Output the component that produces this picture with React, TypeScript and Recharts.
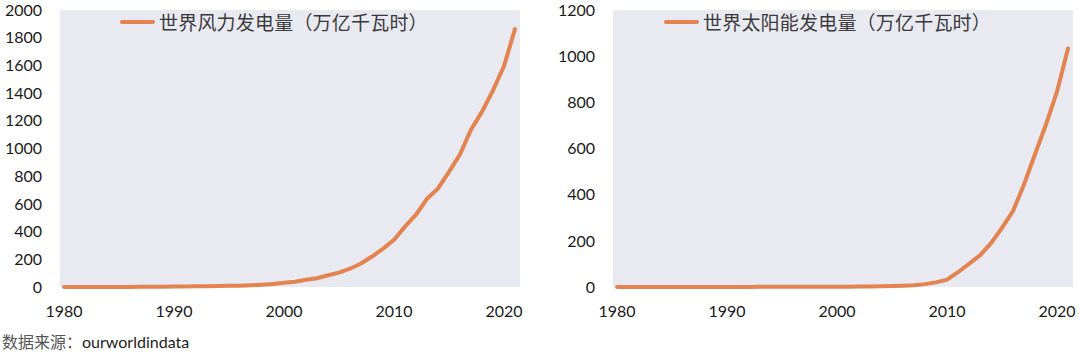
import { LineChart, Line, XAxis, YAxis, Legend, CartesianGrid } from 'recharts'

// ── Data ──────────────────────────────────────────────────────────────────────

const years = [
  1980, 1981, 1982, 1983, 1984, 1985, 1986, 1987, 1988, 1989,
  1990, 1991, 1992, 1993, 1994, 1995, 1996, 1997, 1998, 1999,
  2000, 2001, 2002, 2003, 2004, 2005, 2006, 2007, 2008, 2009,
  2010, 2011, 2012, 2013, 2014, 2015, 2016, 2017, 2018, 2019,
  2020, 2021,
]

const windValues = [
  0, 0, 0, 0.1, 0.3, 0.6, 0.8, 1.3, 2.2, 2.7,
  3.6, 4.1, 4.7, 5.6, 7.1, 8.3, 9.2, 12, 16, 21,
  31, 38, 52, 63, 85, 104, 132, 170, 220, 276,
  341, 436, 522, 636, 712, 831, 958, 1136, 1266, 1420,
  1596, 1862,
]

const solarValues = [
  0, 0, 0, 0, 0, 0.1, 0.1, 0.1, 0.2, 0.3,
  0.4, 0.45, 0.5, 0.57, 0.63, 0.7, 0.76, 0.83, 0.9, 1.0,
  1.1, 1.4, 1.9, 2.6, 3.5, 4.4, 5.7, 7.6, 12.5, 20.1,
  32, 64, 100, 137, 190, 256, 329, 444, 575, 704,
  846, 1033,
]

const xTicks = [1980, 1990, 2000, 2010, 2020]
const windTicks = [0, 200, 400, 600, 800, 1000, 1200, 1400, 1600, 1800, 2000]
const solarTicks = [0, 200, 400, 600, 800, 1000, 1200]

const windName = '世界风力发电量（万亿千瓦时）'
const solarName = '世界太阳能发电量（万亿千瓦时）'

// ── Style ─────────────────────────────────────────────────────────────────────

const ORANGE = '#e3834f'
const PLOT_BG = '#e9e9f1'
const TICK_FONT = 'Lato, "Open Sans", sans-serif'
const CJK_FONT = '"Noto Sans CJK SC", sans-serif'

function LegendLine({ name }: { name: string }) {
  return (
    <div style={{ display: 'flex', alignItems: 'center', whiteSpace: 'nowrap' }}>
      <span
        style={{
          display: 'inline-block',
          width: 35,
          height: 4,
          borderRadius: 2,
          background: ORANGE,
          marginRight: 4,
        }}
      />
      <span
        style={{
          fontFamily: CJK_FONT,
          fontSize: 19,
          letterSpacing: 0.2,
          color: '#3a3a3a',
          lineHeight: '22px',
        }}
      >
        {name}
      </span>
    </div>
  )
}

// ── Panel ─────────────────────────────────────────────────────────────────────

function Panel({
  values,
  name,
  ticks,
  max,
  yWidth,
  marginRight,
  legendLeft,
}: {
  values: number[]
  name: string
  ticks: number[]
  max: number
  yWidth: number
  marginRight: number
  legendLeft: number
}) {
  const data = years.map((year, i) => ({ year, value: values[i] }))
  return (
    <LineChart
      width={540}
      height={330}
      data={data}
      margin={{ top: 10, right: marginRight, left: 0, bottom: 0 }}
    >
      <CartesianGrid horizontal={false} vertical={false} fill={PLOT_BG} />
      <XAxis
        dataKey="year"
        type="number"
        domain={[1980, 2021]}
        ticks={xTicks}
        padding={{ left: 4, right: 5 }}
        axisLine={false}
        tickLine={false}
        tickSize={0}
        tickMargin={19}
        height={43}
        tick={{ fontSize: 16, fill: '#1a1a1a', fontFamily: TICK_FONT }}
      />
      <YAxis
        domain={[0, max]}
        ticks={ticks}
        axisLine={false}
        tickLine={false}
        tickSize={0}
        tickMargin={18}
        width={yWidth}
        interval={0}
        tick={{ fontSize: 16, fill: '#1a1a1a', fontFamily: TICK_FONT }}
      />
      <Legend
        layout="horizontal"
        verticalAlign="middle"
        align="center"
        wrapperStyle={{ top: 11, left: legendLeft, width: 'auto' }}
        content={() => <LegendLine name={name} />}
      />
      <Line
        type="linear"
        dataKey="value"
        name={name}
        stroke={ORANGE}
        strokeWidth={4}
        strokeLinecap="round"
        dot={false}
        isAnimationActive={false}
      />
    </LineChart>
  )
}

export default function App() {
  return (
    <div
      style={{
        position: 'absolute',
        left: 0,
        top: 0,
        width: 1080,
        height: 352,
        background: '#ffffff',
        overflow: 'hidden',
      }}
    >
      <div style={{ position: 'absolute', left: 0, top: 0 }}>
        <Panel
          values={windValues}
          name={windName}
          ticks={windTicks}
          max={2000}
          yWidth={60}
          marginRight={20}
          legendLeft={120}
        />
      </div>
      <div style={{ position: 'absolute', left: 540, top: 0 }}>
        <Panel
          values={solarValues}
          name={solarName}
          ticks={solarTicks}
          max={1200}
          yWidth={73}
          marginRight={7}
          legendLeft={124}
        />
      </div>
      <div
        style={{
          position: 'absolute',
          left: 2,
          top: 331,
          fontSize: 16,
          lineHeight: '21px',
          whiteSpace: 'nowrap',
        }}
      >
        <span style={{ fontFamily: CJK_FONT, color: '#555555' }}>数据来源：</span>
        <span style={{ fontFamily: TICK_FONT, color: '#222222' }}>ourworldindata</span>
      </div>
    </div>
  )
}
